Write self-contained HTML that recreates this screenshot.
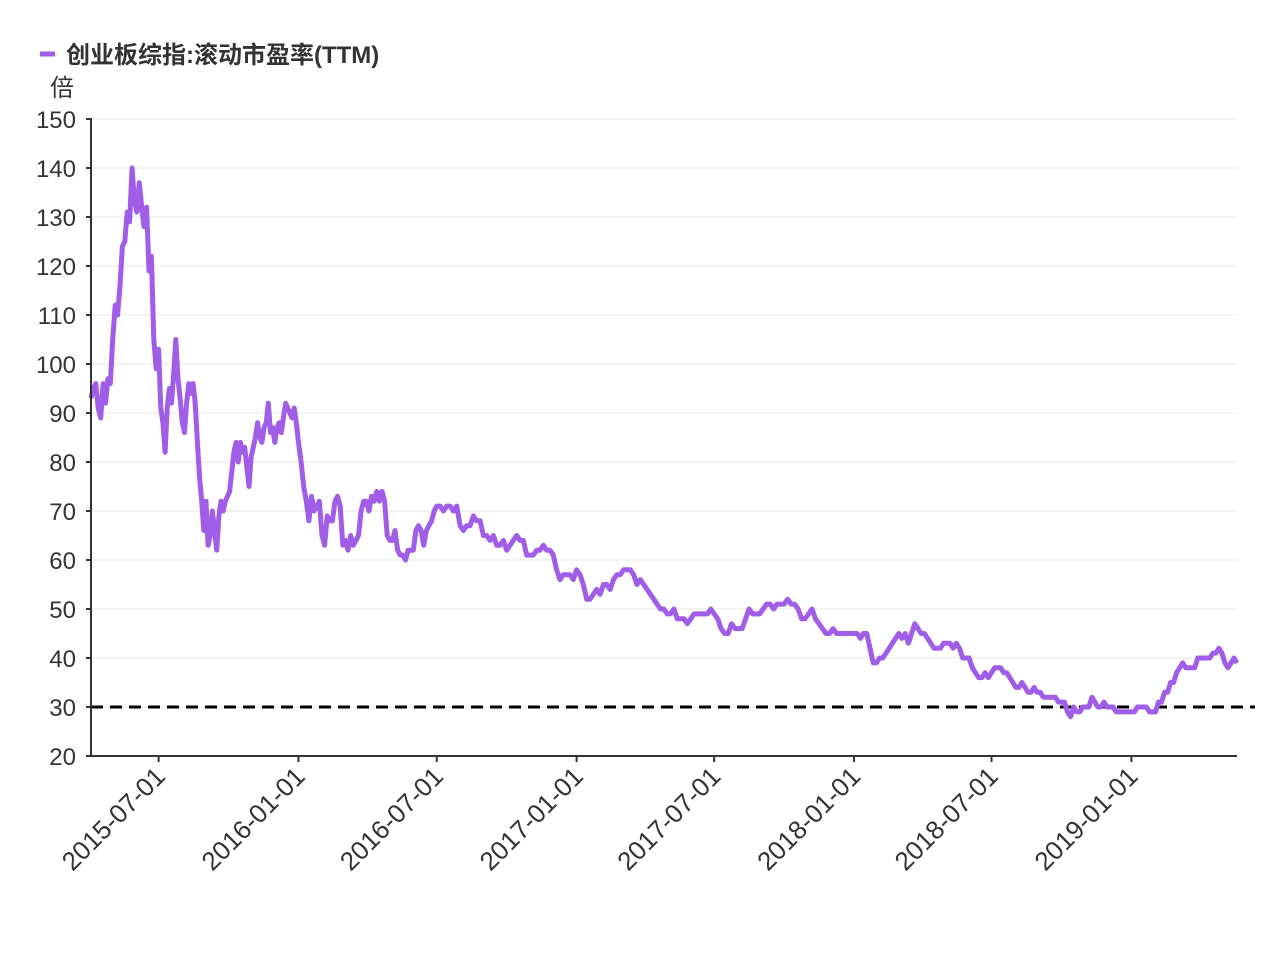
<!DOCTYPE html>
<html><head><meta charset="utf-8"><style>
body{margin:0;background:#fff;}
svg text{font-family:"Liberation Sans","Noto Sans CJK SC",sans-serif;}
</style></head><body>
<svg id="chart" width="1269" height="952" xmlns="http://www.w3.org/2000/svg">
<g>
<line x1="40" y1="54" x2="55" y2="54" stroke="#a05ee8" stroke-width="5"/>
<text x="66" y="63" font-size="24" font-weight="bold" fill="#333">创业板综指:滚动市盈率(TTM)</text>
</g>
<text x="50" y="96" font-size="24" fill="#333">倍</text>
<g id="grid"></g>
<g id="yt"></g>
<g id="xt"></g>
<line id="ref" stroke="#000" stroke-width="3" stroke-dasharray="12,7"/>
<path id="line" fill="none" stroke="#a05ee8" stroke-width="5" stroke-linejoin="round"/>
<line x1="91" y1="118" x2="91" y2="757" stroke="#333" stroke-width="2"/>
<line x1="90" y1="756" x2="1237" y2="756" stroke="#333" stroke-width="2"/>
</svg>
<script>
const yTicks=[20,30,40,50,60,70,80,90,100,110,120,130,140,150];
const xTickLabels=["2015-07-01","2016-01-01","2016-07-01","2017-01-01","2017-07-01","2018-01-01","2018-07-01","2019-01-01"];
const refValue=30;
const segDates=["2015-04-03","2015-07-01","2016-01-01","2016-07-01","2017-01-01","2017-07-01","2018-01-01","2018-07-01","2019-01-01","2019-05-20"];
const seg0=[93,95,96,91,89,96,92,97,96,105,112,110,116,124,125,131,129,140,133,131,137,132,128,132,119,122,105,99];
const seg1=[103,91,88,82,91,95,92,98,105,97,93,88,86,92,96,94,96,92,84,77,72,66,72,63,65,70,66,62,69,72,70,72,73,74,78,82,84,80,84,82,83,79,75,81,83,85,88,85,84,87,88,92,86,87,84,87,88,86,89,92,91,90,89,91,88];
const seg2=[84,80,75,72,68,73,70,71,72,65,63,69,68,68,72,73,71,63,64,62,65,63,64,65,70,72,72,70,73,72,74,72,74,72,65,64,64,66,62,61,61,60,62,62,62,66,67,66,63,66,67,68,70];
const seg3=[71,71,70,71,71,70,71,67,66,67,67,69,68,68,65,65,64,65,63,63,64,62,63,64,65,64,64,61,61,61,62,62,63,62,62,61,58,56,57,57,57,56];
const seg4=[58,57,55,52,52,53,54,53,55,55,54,56,57,57,58,58,58,57,55,56,55,54,53,52,51,50,50,49,49,50,48,48,48,47,48,49,49,49,49,49,50];
const seg5=[49,48,46,45,45,47,46,46,46,48,50,49,49,49,50,51,51,50,51,51,51,52,51,51,50,48,48,49,50,48,47,46,45,45,46,45,45,45,45,45];
const seg6=[45,45,44,45,45,42,39,39,40,40,41,42,43,44,45,44,45,43,45,47,46,45,45,44,43,42,42,42,43,43,43,42,43,42,40,40,40,38,37,36,36,37,36];
const seg7=[37,38,38,38,37,37,36,35,34,34,35,34,33,33,34,33,33,32,32,32,32,32,31,31,31,29,28,30,29,29,30,30,30,32,31,30,30,31,30,30,30,29,29,29,29,29];
const seg8=[29,29,30,30,30,30,29,29,29,31,31,33,33,35,35,37,38,39,38,38,38,38,40,40,40,40,40,41,41,42,41,39,38,39,40,39];
const segs=[seg0,seg1,seg2,seg3,seg4,seg5,seg6,seg7,seg8];

const NS="http://www.w3.org/2000/svg";
const X0=91,X1=1237,Y0=756,Y1=119;
const t0=Date.parse(segDates[0]),t1=Date.parse(segDates[segDates.length-1]);
const xs=t=>X0+(t-t0)/(t1-t0)*(X1-X0);
const ys=v=>Y0-(v-20)/(150-20)*(Y0-Y1);
function mk(tag,attrs,parent){const e=document.createElementNS(NS,tag);for(const k in attrs)e.setAttribute(k,attrs[k]);parent.appendChild(e);return e;}
const grid=document.getElementById('grid'),yt=document.getElementById('yt'),xt=document.getElementById('xt');
yTicks.forEach(v=>{
  const y=ys(v);
  if(v>20){const g=mk('line',{x1:X0,x2:X1,y1:y,y2:y,stroke:'#e6e6e6','stroke-width':1},grid);
  
  }
  const tk=mk('line',{x1:X0-5,x2:X0,y1:y,y2:y,stroke:'#333','stroke-width':2},yt);
  
  
  const t=mk('text',{x:76,y:y+9,'text-anchor':'end','font-size':24,fill:'#333'},yt);
  
  
  t.textContent=v;
});
xTickLabels.forEach(d=>{
  const x=xs(Date.parse(d));
  const tk=mk('line',{x1:x,x2:x,y1:Y0,y2:Y0+6,stroke:'#333','stroke-width':2},xt);
  
  
  const t=mk('text',{x:x+8,y:Y0+22,'text-anchor':'end','font-size':26,fill:'#333',transform:`rotate(-45 ${x+8} ${Y0+22})`},xt);
  
  
  t.textContent=d;
});
let pts=[];
segs.forEach((s,i)=>{
  const a=Date.parse(segDates[i]),b=Date.parse(segDates[i+1]);
  const last=i===segs.length-1;
  s.forEach((v,j)=>{
    const n=last?s.length-1:s.length;
    const t=a+(b-a)*j/n;
    pts.push([xs(t),ys(v)]);
  });
});
document.getElementById('line').setAttribute('d','M'+pts.map(p=>p[0].toFixed(1)+','+p[1].toFixed(1)).join('L'));
const r=document.getElementById('ref');
r.setAttribute('x1',X0);r.setAttribute('x2',1255);r.setAttribute('y1',ys(refValue));r.setAttribute('y2',ys(refValue));
</script>
</body></html>
